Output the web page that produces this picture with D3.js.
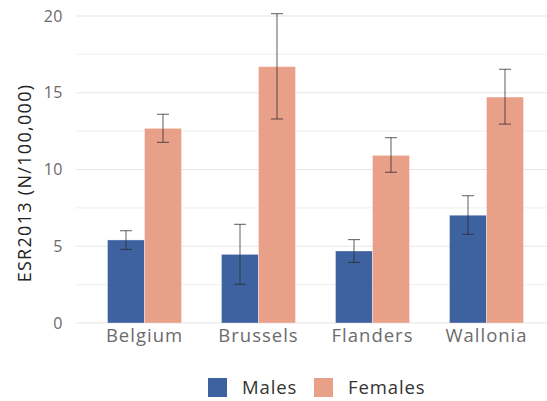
<!DOCTYPE html>
<html>
<head>
<meta charset="utf-8">
<script src="https://cdn.jsdelivr.net/npm/d3@7"></script>
<style>
  html, body { margin: 0; padding: 0; background: #fff; }
  svg { display: block; }
  text { font-family: "Open Sans", sans-serif; }
</style>
</head>
<body>
<script>
// Regions and series
const regions = ["Belgium", "Brussels", "Flanders", "Wallonia"];
const seriesNames = ["Males", "Females"];
const malesValue = [5.41, 4.47, 4.69, 7.02];
const malesLow = [4.80, 2.52, 3.95, 5.78];
const malesHigh = [6.01, 6.43, 5.43, 8.29];
const femalesValue = [12.68, 16.70, 10.92, 14.72];
const femalesLow = [11.77, 13.29, 9.82, 12.96];
const femalesHigh = [13.60, 20.15, 12.07, 16.53];
const yTicks = [0, 5, 10, 15, 20];
const yGrid = [0, 2.5, 5, 7.5, 10, 12.5, 15, 17.5, 20];
const colors = ["#3E62A0", "#E9A088"];

const W = 547, H = 401;
const FONT = "'Open Sans', sans-serif";
const svg = d3.select("body").append("svg").attr("width", W).attr("height", H);

const y = d3.scaleLinear().domain([0, 20]).range([323, 16]);
const x0 = d3.scaleBand().domain(regions).range([87.5, 543.5])
  .paddingInner(0.351).paddingOuter(0.1755);
const x1 = d3.scaleBand().domain(seriesNames).range([0, x0.bandwidth()]);

// grid
svg.append("g").selectAll("line").data(yGrid).join("line")
  .attr("x1", 76).attr("x2", W)
  .attr("y1", d => y(d)).attr("y2", d => y(d))
  .attr("stroke", d => d % 5 === 0 ? "#e6e6e6" : "#f2f2f2")
  .attr("stroke-width", 1.2);

// y axis labels
const yAxis = d3.axisLeft(y).tickValues(yTicks).tickSize(0).tickPadding(0);
const gy = svg.append("g").attr("transform", "translate(63,0)").call(yAxis);
gy.select(".domain").remove();
gy.selectAll("text").attr("fill", "#6b6b6b").style("font-size", "16px")
  .style("letter-spacing", "0.5px")
  .style("font-family", FONT);

// y axis title
svg.append("text")
  .attr("transform", "translate(31,183) rotate(-90)")
  .attr("text-anchor", "middle")
  .attr("fill", "#222")
  .style("font-size", "18px")
  .style("letter-spacing", "1.3px")
  .text("ESR2013 (N/100,000)");

// x axis labels
const xAxis = d3.axisBottom(x0).tickSize(0).tickPadding(6);
const gx = svg.append("g").attr("transform", "translate(0,323)").call(xAxis);
gx.select(".domain").remove();
gx.selectAll("text").attr("fill", "#6b6b6b").style("font-size", "18.5px")
  .style("letter-spacing", "1px")
  .style("font-family", FONT);

// data rows
const rows = regions.map((r, i) => ({
  region: r,
  values: [
    { s: "Males", v: malesValue[i], lo: malesLow[i], hi: malesHigh[i], c: colors[0] },
    { s: "Females", v: femalesValue[i], lo: femalesLow[i], hi: femalesHigh[i], c: colors[1] }
  ]
}));

const groups = svg.append("g").selectAll("g").data(rows).join("g")
  .attr("transform", d => `translate(${x0(d.region)},0)`);

groups.selectAll("rect").data(d => d.values).join("rect")
  .attr("x", d => x1(d.s))
  .attr("y", d => y(d.v))
  .attr("width", x1.bandwidth())
  .attr("height", d => y(0) - y(d.v))
  .attr("fill", d => d.c)
  .attr("stroke", "rgba(255,255,255,0.35)")
  .attr("stroke-width", 1);

// error bars
const cap = 6;
const eb = groups.selectAll("g.err").data(d => d.values).join("g").attr("class", "err")
  .attr("stroke", "rgba(40,40,40,0.75)").attr("stroke-width", 1);
eb.append("line")
  .attr("x1", d => x1(d.s) + x1.bandwidth() / 2).attr("x2", d => x1(d.s) + x1.bandwidth() / 2)
  .attr("y1", d => y(d.lo)).attr("y2", d => y(d.hi));
eb.append("line")
  .attr("x1", d => x1(d.s) + x1.bandwidth() / 2 - cap).attr("x2", d => x1(d.s) + x1.bandwidth() / 2 + cap)
  .attr("y1", d => y(d.hi)).attr("y2", d => y(d.hi));
eb.append("line")
  .attr("x1", d => x1(d.s) + x1.bandwidth() / 2 - cap).attr("x2", d => x1(d.s) + x1.bandwidth() / 2 + cap)
  .attr("y1", d => y(d.lo)).attr("y2", d => y(d.lo));

// legend
const legendX = [208, 314];
const legend = svg.append("g").selectAll("g").data(seriesNames).join("g")
  .attr("transform", (d, i) => `translate(${legendX[i]},378)`);
legend.append("rect").attr("width", 19).attr("height", 19)
  .attr("fill", (d, i) => colors[i]);
legend.append("text").attr("x", 34).attr("y", 16)
  .attr("fill", "#333").style("font-size", "18.5px")
  .style("letter-spacing", "0.9px").text(d => d);
</script>
</body>
</html>
